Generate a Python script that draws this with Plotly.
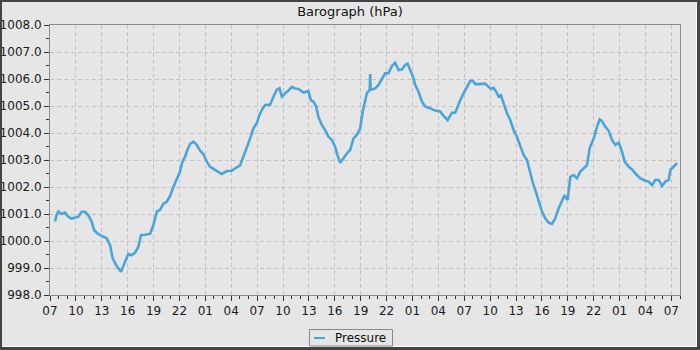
import datetime as dt
import plotly.graph_objects as go

# ---- data (hours after 07:00 on day 1, pressure in hPa) ----
hours = [0.58, 0.75, 0.97, 1.35, 1.74, 2.12, 2.5, 2.9, 3.28, 3.67, 4.06, 4.44, 4.83, 5.1, 5.49,
         5.99, 6.57, 6.96, 7.26, 7.73, 8.23, 8.7, 9.08, 9.47, 9.86, 10.24, 10.55, 11.01, 11.6,
         11.98, 12.37, 12.75, 13.14, 13.53, 13.91, 14.3, 14.5, 14.76, 15.07, 15.34, 15.65,
         15.92, 16.23, 16.62, 17.0, 17.39, 17.78, 18.16, 18.55, 18.94, 19.32, 19.9, 20.48,
         21.06, 21.64, 22.03, 22.4, 22.8, 23.19, 23.57, 23.96, 24.27, 24.54, 24.93, 25.5, 25.9,
         26.28, 26.59, 26.86, 27.25, 27.63, 28.02, 28.4, 28.79, 29.37, 29.95, 30.22, 30.53,
         30.84, 31.1, 31.5, 31.88, 32.27, 32.66, 33.04, 33.3, 33.62, 34.0, 34.4, 34.78, 35.17,
         35.56, 35.94, 36.2, 36.4, 36.71, 37.05, 37.1, 37.15, 37.5, 37.7, 38.07, 38.46, 38.84,
         39.23, 39.62, 40.0, 40.39, 40.77, 41.16, 41.43, 41.74, 42.05, 42.32, 42.7, 43.1,
         43.48, 44.06, 44.64, 45.22, 45.6, 46.07, 46.57, 46.96, 47.34, 47.54, 47.92, 48.3,
         48.7, 49.0, 49.28, 49.66, 50.05, 50.43, 50.82, 51.1, 51.4, 51.7, 51.98, 52.25, 52.56,
         52.95, 53.33, 53.72, 54.1, 54.49, 54.88, 55.27, 55.57, 55.96, 56.35, 56.66, 57.0,
         57.39, 57.78, 58.17, 58.55, 58.94, 59.33, 59.63, 59.98, 60.29, 60.67, 61.06, 61.45,
         61.84, 62.22, 62.53, 62.8, 63.07, 63.38, 63.69, 63.96, 64.35, 64.73, 65.12, 65.51,
         65.9, 66.28, 66.59, 67.06, 67.44, 67.83, 68.41, 68.99, 69.37, 69.76, 70.14, 70.53,
         70.92, 71.3, 71.69, 71.88, 72.27, 72.66]
pressure = [1000.72, 1000.95, 1001.09, 1001.0, 1001.05, 1000.9, 1000.83, 1000.88, 1000.9,
            1001.08, 1001.08, 1000.95, 1000.72, 1000.41, 1000.28, 1000.19, 1000.1, 999.85,
            999.36, 999.07, 998.86, 999.23, 999.52, 999.47, 999.57, 999.79, 1000.22, 1000.23,
            1000.27, 1000.59, 1001.09, 1001.15, 1001.38, 1001.45, 1001.67, 1002.0, 1002.14,
            1002.36, 1002.57, 1002.94, 1003.12, 1003.37, 1003.59, 1003.68, 1003.56, 1003.35,
            1003.21, 1002.94, 1002.75, 1002.67, 1002.6, 1002.48, 1002.59, 1002.6, 1002.73,
            1002.8, 1003.12, 1003.43, 1003.8, 1004.17, 1004.36, 1004.67, 1004.85, 1005.04,
            1005.05, 1005.35, 1005.6, 1005.65, 1005.35, 1005.47, 1005.57, 1005.71, 1005.65,
            1005.63, 1005.5, 1005.55, 1005.22, 1005.16, 1004.98, 1004.6, 1004.3, 1004.11,
            1003.86, 1003.74, 1003.49, 1003.19, 1002.9, 1003.06, 1003.25, 1003.37, 1003.8,
            1003.93, 1004.17, 1004.73, 1005.04, 1005.47, 1005.6, 1006.18, 1005.6, 1005.63,
            1005.65, 1005.78, 1005.99, 1006.21, 1006.22, 1006.48, 1006.6, 1006.33, 1006.35,
            1006.52, 1006.57, 1006.33, 1006.09, 1005.78, 1005.53, 1005.16, 1004.98, 1004.91,
            1004.83, 1004.8, 1004.63, 1004.48, 1004.75, 1004.75, 1005.1, 1005.22, 1005.47,
            1005.71, 1005.93, 1005.93, 1005.81, 1005.81, 1005.81, 1005.83, 1005.71, 1005.63,
            1005.67, 1005.53, 1005.35, 1005.4, 1005.1, 1004.73, 1004.48, 1004.11, 1003.86,
            1003.49, 1003.19, 1003.0, 1002.63, 1002.14, 1001.77, 1001.46, 1001.09, 1000.84,
            1000.68, 1000.63, 1000.84, 1001.21, 1001.46, 1001.7, 1001.52, 1002.38, 1002.44,
            1002.32, 1002.57, 1002.69, 1002.81, 1003.43, 1003.62, 1003.86, 1004.23, 1004.5,
            1004.44, 1004.23, 1004.09, 1003.74, 1003.56, 1003.65, 1003.31, 1002.94, 1002.75,
            1002.65, 1002.5, 1002.32, 1002.23, 1002.2, 1002.07, 1002.26, 1002.26, 1002.04,
            1002.2, 1002.26, 1002.63, 1002.75, 1002.88]
series_name = "Pressure"
title_text = "Barograph (hPa)"

start = dt.datetime(2024, 1, 1, 7, 0)
times = [start + dt.timedelta(hours=h) for h in hours]

LINE = "#4aa6d9"
BG = "#e6e6e6"
GRID = "#c2c2c2"
AXIS = "#8c8c8c"
FONT = "DejaVu Sans"

W, H = 700, 350
ML, MR, MT, MB = 50, 20, 25, 55
PW, PH = W - ML - MR, H - MT - MB


def px(x):
    return (x - ML) / PW


def py(y):
    return (H - MB - y) / PH


fig = go.Figure()
fig.add_trace(go.Scatter(x=times, y=pressure, mode="lines", name=series_name,
                         line=dict(color=LINE, width=2.6), showlegend=False))

shapes = []


def rect(x0, y0, x1, y1, fill, line=None, lw=0, layer="above"):
    shapes.append(dict(type="rect", xref="paper", yref="paper",
                       x0=px(x0), x1=px(x1), y0=py(y0), y1=py(y1),
                       fillcolor=fill, line=dict(width=lw, color=line or fill),
                       layer=layer))


# outer frame
rect(0, 0, 700, 2, "#444444")
rect(0, 0, 2, 350, "#444444")
rect(696, 2, 697, 347, "#ffffff")
rect(2, 346, 697, 347, "#ffffff")
rect(697, 0, 700, 350, "#444444")
rect(0, 347, 700, 350, "#444444")

# legend box
rect(309.5, 329.5, 392.5, 346, BG, line="#8a8a8a", lw=1)
shapes.append(dict(type="line", xref="paper", yref="paper",
                   x0=px(314), x1=px(325), y0=py(338), y1=py(338),
                   line=dict(color=LINE, width=2)))

fig.update_layout(
    width=W, height=H,
    margin=dict(l=ML, r=MR, t=MT, b=MB, pad=0, autoexpand=False),
    paper_bgcolor=BG, plot_bgcolor=BG,
    font=dict(family=FONT, size=12, color="#1a1a1a"),
    title=dict(text=title_text, x=0.5, xref="container", xanchor="center",
               y=1 - 11.5 / H, yref="container", yanchor="middle",
               font=dict(family=FONT, size=13, color="#111111")),
    shapes=shapes,
    annotations=[dict(text=series_name, xref="paper", yref="paper",
                      x=px(333), y=py(337.5), xanchor="left", yanchor="middle",
                      showarrow=False, font=dict(family=FONT, size=12, color="#111111"))],
    showlegend=False,
)

fig.update_xaxes(
    type="date", automargin=False,
    range=[start, start + dt.timedelta(hours=73)],
    tick0=start, dtick=3 * 3600 * 1000, tickformat="%H",
    ticks="outside", ticklen=5, tickcolor="#333333", tickwidth=1,
    showline=True, linecolor=AXIS, linewidth=1, mirror=True,
    showgrid=True, gridcolor=GRID, griddash="4px,3px", gridwidth=1,
    minor=dict(dtick=3600 * 1000, ticks="outside", ticklen=3, tickcolor="#333333",
               showgrid=False),
    zeroline=False,
    tickfont=dict(family=FONT, size=12, color="#1a1a1a"),
)
fig.update_yaxes(
    automargin=False,
    range=[998, 1008], dtick=1, tick0=998, tickformat=".1f",
    ticks="outside", ticklen=5, tickcolor="#333333", tickwidth=1,
    showline=True, linecolor=AXIS, linewidth=1, mirror=True,
    showgrid=True, gridcolor=GRID, griddash="4px,3px", gridwidth=1,
    minor=dict(dtick=0.5, ticks="outside", ticklen=3, tickcolor="#333333", showgrid=False),
    zeroline=False,
    tickfont=dict(family=FONT, size=12, color="#1a1a1a"),
)

fig.write_html("out.html")
